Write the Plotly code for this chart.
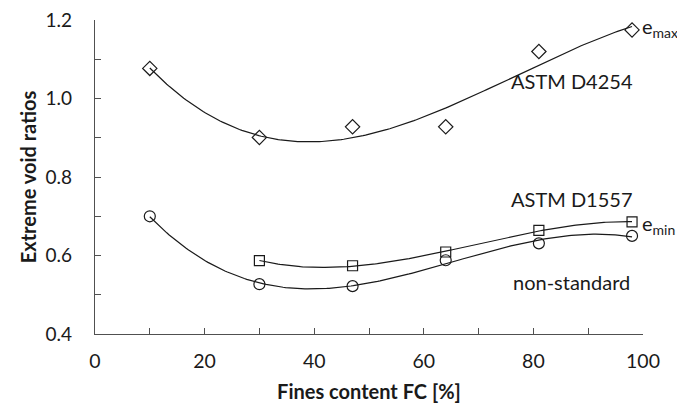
import numpy as np
import plotly.graph_objects as go

# Data
fc_emax = [10, 30, 47, 64, 81, 98]
emax_d4254 = [1.077, 0.901, 0.928, 0.928, 1.120, 1.175]

fc_d1557 = [30, 47, 64, 81, 98]
emin_d1557 = [0.587, 0.574, 0.609, 0.664, 0.686]

fc_nonstd = [10, 30, 47, 64, 81, 98]
emin_nonstd = [0.700, 0.527, 0.522, 0.588, 0.631, 0.650]

x_ticks = [0, 20, 40, 60, 80, 100]
y_ticks = [0.4, 0.6, 0.8, 1.0, 1.2]

FONT = "Lato"
INK = "#1a1a1a"
AXC = "#505050"


def trend(x, y, deg=3):
    c = np.polyfit(x, y, deg)
    xs = np.linspace(min(x), max(x), 200)
    return xs, np.polyval(c, xs)


fig = go.Figure()
for x, y, sym, sz in [
    (fc_emax, emax_d4254, "diamond-open", 11),
    (fc_d1557, emin_d1557, "square-open", 10),
    (fc_nonstd, emin_nonstd, "circle-open", 11),
]:
    xs, ys = trend(x, y)
    fig.add_trace(go.Scatter(x=xs, y=ys, mode="lines",
                             line=dict(color=INK, width=1.2), hoverinfo="skip"))
    fig.add_trace(go.Scatter(x=x, y=y, mode="markers",
                             marker=dict(symbol=sym, size=sz, color=INK,
                                         line=dict(color=INK, width=1.2))))

ann_font = dict(family=FONT, size=20, color=INK)
annotations = [
    dict(x=98, y=1.175, text="e<sub>max</sub>", xanchor="left", xshift=8, yshift=2),
    dict(x=87, y=1.045, text="ASTM D4254", xanchor="center"),
    dict(x=87, y=0.745, text="ASTM D1557", xanchor="center"),
    dict(x=98, y=0.686, text="e<sub>min</sub>", xanchor="left", xshift=8, yshift=-3),
    dict(x=87, y=0.533, text="non-standard", xanchor="center"),
]
for a in annotations:
    a.update(xref="x", yref="y", showarrow=False, font=ann_font)

# the page body has an 8px margin, so the figure is offset by (8, 8)
fig.update_layout(
    width=677, height=399,
    margin=dict(l=87, r=42, t=12, b=73),
    paper_bgcolor="white", plot_bgcolor="white",
    showlegend=False,
    annotations=annotations,
    font=dict(family=FONT, size=20, color=INK),
)
fig.update_xaxes(
    range=[0, 100], tickvals=x_ticks, ticks="inside", ticklen=6, tickwidth=1.3,
    tickcolor=AXC, showline=True, linecolor=AXC, linewidth=1.3, showgrid=False,
    zeroline=False, automargin=False,
    minor=dict(dtick=10, ticks="inside", ticklen=6, tickwidth=1.3,
               tickcolor=AXC, showgrid=False),
    tickfont=dict(family=FONT, size=19.5, color=INK), ticklabelstandoff=9,
    title=dict(text="<b>Fines content FC [%]</b>", standoff=14,
               font=dict(family=FONT, size=20, color=INK)),
)
fig.update_yaxes(
    range=[0.4, 1.2003], tickvals=y_ticks, tickformat=".1f", ticks="inside",
    ticklen=6, tickwidth=1.3, tickcolor=AXC, showline=True, linecolor=AXC,
    linewidth=1.3, showgrid=False, zeroline=False, automargin=False,
    ticklabeloverflow="allow",
    minor=dict(dtick=0.1, ticks="inside", ticklen=6, tickwidth=1.3,
               tickcolor=AXC, showgrid=False),
    tickfont=dict(family=FONT, size=19, color=INK), ticklabelstandoff=18,
    title=dict(text="<b>Extreme void ratios</b>", standoff=3,
               font=dict(family=FONT, size=20, color=INK)),
)

fig.write_html("out.html")
